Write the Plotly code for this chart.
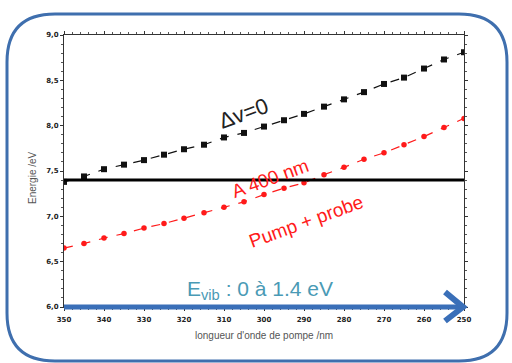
import plotly.graph_objects as go

# ---- data ----
wavelength = [350, 345, 340, 335, 330, 325, 320, 315, 310, 305, 300,
              295, 290, 285, 280, 275, 270, 265, 260, 255, 250]
e_dv0 = [7.38, 7.44, 7.52, 7.57, 7.62, 7.68, 7.74, 7.79, 7.87, 7.92, 7.99,
         8.06, 8.13, 8.21, 8.29, 8.37, 8.46, 8.53, 8.63, 8.73, 8.81]
e_pump_probe = [6.65, 6.70, 6.76, 6.81, 6.87, 6.92, 6.98, 7.04, 7.10, 7.16, 7.24,
                7.31, 7.37, 7.46, 7.54, 7.63, 7.70, 7.79, 7.88, 7.98, 8.08]
e_400 = 7.4
x_ticks = [350, 340, 330, 320, 310, 300, 290, 280, 270, 260, 250]
y_ticks = [6.0, 6.5, 7.0, 7.5, 8.0, 8.5, 9.0]

W, H = 512, 363
L, R, T, B = 64, 48, 35, 56
pw, ph = W - L - R, H - T - B

def px(x):
    return (x - L) / pw

def py(y):
    return (H - B - y) / ph

fig = go.Figure()

fig.add_trace(go.Scatter(
    x=wavelength, y=e_dv0, mode="lines+markers",
    line=dict(color="#111111", width=1.2, dash="dash"),
    marker=dict(symbol="square", size=6, color="#111111"),
    showlegend=False))
fig.add_trace(go.Scatter(
    x=wavelength, y=e_pump_probe, mode="lines+markers",
    line=dict(color="#ff1a1a", width=1.2, dash="dash"),
    marker=dict(symbol="circle", size=5.5, color="#ff1a1a"),
    showlegend=False))
fig.add_trace(go.Scatter(
    x=[wavelength[0], wavelength[-1]], y=[e_400, e_400], mode="lines",
    line=dict(color="black", width=3), showlegend=False))

shapes = []
# rounded frame
x0, x1, y0, y1 = 7, 507, 14, 361
r = 48
path = (f"M {px(x0+r)},{py(y0)} L {px(x1-r)},{py(y0)} "
        f"Q {px(x1)},{py(y0)} {px(x1)},{py(y0+r)} "
        f"L {px(x1)},{py(y1-r)} Q {px(x1)},{py(y1)} {px(x1-r)},{py(y1)} "
        f"L {px(x0+r)},{py(y1)} Q {px(x0)},{py(y1)} {px(x0)},{py(y1-r)} "
        f"L {px(x0)},{py(y0+r)} Q {px(x0)},{py(y0)} {px(x0+r)},{py(y0)} Z")
shapes.append(dict(type="path", path=path, xref="paper", yref="paper",
                   line=dict(color="#3f6fae", width=3), layer="above"))
# blue arrow along the bottom
shapes.append(dict(type="line", xref="paper", yref="paper",
                   x0=0, x1=px(460), y0=0, y1=0,
                   line=dict(color="#3a6fb8", width=5), layer="above"))
arrow = (f"M {px(445)},{py(292)} L {px(463)},{py(307)} L {px(445)},{py(321)}")
shapes.append(dict(type="path", path=arrow, xref="paper", yref="paper",
                   line=dict(color="#3a6fb8", width=6), layer="above"))

def label(text, cx, cy, size, color, angle, family="Liberation Sans"):
    return dict(text=text, x=px(cx), y=py(cy), xref="paper", yref="paper",
                xanchor="center", yanchor="middle",
                showarrow=False, textangle=angle,
                font=dict(size=size, color=color, family=family))

annotations = [
    label("Δv=0", 243, 113, 22, "#222222", -20),
    label("A 400 nm", 270, 178, 19, "#ff1a1a", -20),
    label("Pump + probe", 306, 221, 19, "#ff1a1a", -20),
    label("E<sub>vib</sub> : 0 à 1.4 eV", 260, 290, 21, "#4a9ab5", 0),
    label("longueur d'onde de pompe /nm", 264, 335, 10, "#555555", 0),
    label("Energie /eV", 32, 178, 10, "#555555", -90),
]

tick_font = dict(size=7, color="#222222", family="DejaVu Sans", weight="bold")

fig.update_layout(
    width=W, height=H, margin=dict(l=L, r=R, t=T, b=B, autoexpand=False),
    paper_bgcolor="white", plot_bgcolor="white",
    separators=",.",
    shapes=shapes, annotations=annotations,
    font=dict(family="Liberation Sans", color="#333333"),
    xaxis=dict(range=[350, 250], tickvals=x_ticks, tickformat="d",
               automargin=False,
               showgrid=False, zeroline=False,
               showline=True, linecolor="#333333", linewidth=1, mirror="allticks",
               ticks="outside", ticklen=3, tickcolor="#333333",
               ticklabelstandoff=3,
               tickfont=tick_font,
               minor=dict(dtick=2, ticks="outside", ticklen=2, tickcolor="#555555")),
    yaxis=dict(range=[6.0, 9.0], tickvals=y_ticks, tickformat=".1f",
               automargin=False,
               showgrid=False, zeroline=False,
               showline=True, linecolor="#333333", linewidth=1, mirror="allticks",
               ticks="outside", ticklen=3, tickcolor="#333333",
               tickfont=tick_font,
               minor=dict(dtick=0.1, ticks="outside", ticklen=2, tickcolor="#555555")),
)

fig.write_html("out.html", config={"displayModeBar": False},
               post_script="document.body.style.margin='0';document.body.style.overflow='hidden';")
